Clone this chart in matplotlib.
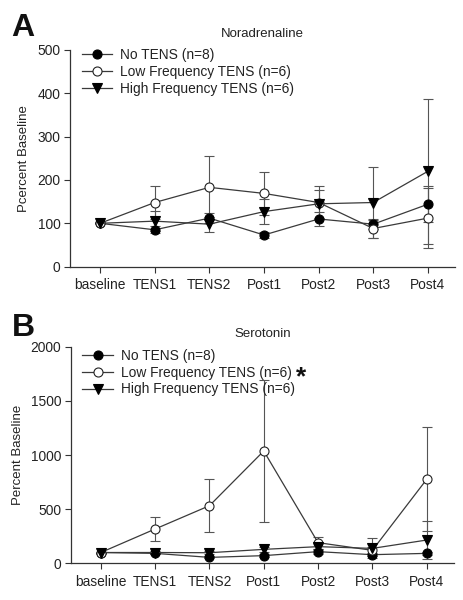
import matplotlib
matplotlib.use("Agg")
import matplotlib.pyplot as plt
import numpy as np

plt.rcParams['font.family'] = ['Liberation Sans', 'DejaVu Sans']

timepoints = ["baseline", "TENS1", "TENS2", "Post1", "Post2", "Post3", "Post4"]
series_labels = ["No TENS (n=8)", "Low Frequency TENS (n=6)", "High Frequency TENS (n=6)"]

# Panel A: Noradrenaline (% baseline) and SEM
na_no = [100, 85, 112, 73, 110, 98, 144]
na_no_err = [0, 8, 12, 6, 17, 10, 41]
na_low = [100, 148, 183, 169, 148, 88, 112]
na_low_err = [0, 38, 72, 49, 37, 23, 69]
na_high = [100, 105, 98, 127, 145, 148, 220]
na_high_err = [0, 23, 17, 29, 32, 83, 168]

# Panel B: Serotonin (% baseline) and SEM
st_no = [100, 92, 55, 71, 108, 80, 92]
st_no_err = [0, 10, 10, 12, 20, 12, 15]
st_low = [100, 317, 532, 1037, 191, 120, 775]
st_low_err = [0, 114, 246, 655, 55, 30, 480]
st_high = [100, 100, 98, 129, 154, 138, 215]
st_high_err = [0, 12, 14, 25, 30, 93, 173]

fig = plt.figure(figsize=(4.64, 6.0), dpi=100)
axA = fig.add_axes([0.151, 0.5556, 0.830, 0.3611])
axB = fig.add_axes([0.153, 0.0611, 0.825, 0.3611])

line_col = '#3a3a3a'
err_col = '#555555'

def draw(ax, no, no_e, low, low_e, high, high_e, ymax, yticks, title, ylabel,
         title_pad, leg_y):
    x = np.arange(len(timepoints))
    specs = [
        (no, no_e, dict(marker='o', mfc='black', mec='black')),
        (low, low_e, dict(marker='o', mfc='white', mec='#222222')),
        (high, high_e, dict(marker='v', mfc='black', mec='black')),
    ]
    handles = []
    for i, (vals, errs, mk) in enumerate(specs):
        ax.errorbar(x, vals, yerr=errs, fmt='none', ecolor=err_col, elinewidth=0.8,
                    capsize=3.5, capthick=0.8, zorder=2)
        h, = ax.plot(x, vals, color=line_col, lw=0.9, markersize=6.5, mew=0.8,
                     zorder=3 + i, label=series_labels[i], **mk)
        handles.append(h)
    ax.set_xlim(-0.55, 6.5)
    ax.set_ylim(0, ymax)
    ax.set_yticks(yticks)
    ax.set_xticks(x)
    ax.set_xticklabels(timepoints)
    for s in ['top', 'right']:
        ax.spines[s].set_visible(False)
    for s in ['left', 'bottom']:
        ax.spines[s].set_color('#333333')
        ax.spines[s].set_linewidth(0.9)
    ax.tick_params(direction='out', length=4, width=0.8, color='#333333',
                   labelsize=9.9, labelcolor='#222222')
    ax.tick_params(axis='x', pad=4.5)
    ax.tick_params(axis='y', pad=3)
    ax.set_title(title, fontsize=9.5, color='#222222', pad=title_pad)
    ax.set_ylabel(ylabel, fontsize=9.5, color='#222222', labelpad=5)
    leg = ax.legend(handles=handles, loc='upper left', bbox_to_anchor=(0.03, leg_y),
                    frameon=False, fontsize=9.9, handlelength=2.2, handletextpad=0.6,
                    labelspacing=0.2, borderpad=0, borderaxespad=0)
    for t in leg.get_texts():
        t.set_color('#222222')
    return leg

draw(axA, na_no, na_no_err, na_low, na_low_err, na_high, na_high_err,
     500, [0, 100, 200, 300, 400, 500], "Noradrenaline", "Pcercent Baseline", 9.0, 1.008)
draw(axB, st_no, st_no_err, st_low, st_low_err, st_high, st_high_err,
     2000, [0, 500, 1000, 1500, 2000], "Serotonin", "Percent Baseline", 6.8, 0.99)

fig.text(0.025, 0.978, "A", fontsize=23, fontweight='bold', va='top', ha='left', color='#111111')
fig.text(0.025, 0.478, "B", fontsize=23, fontweight='bold', va='top', ha='left', color='#111111')
fig.text(295.5 / 464, 1 - 384.5 / 600, "*", fontsize=19, fontweight='bold', va='baseline',
         ha='left', color='#111111')

fig.savefig("out.png", dpi=100)
